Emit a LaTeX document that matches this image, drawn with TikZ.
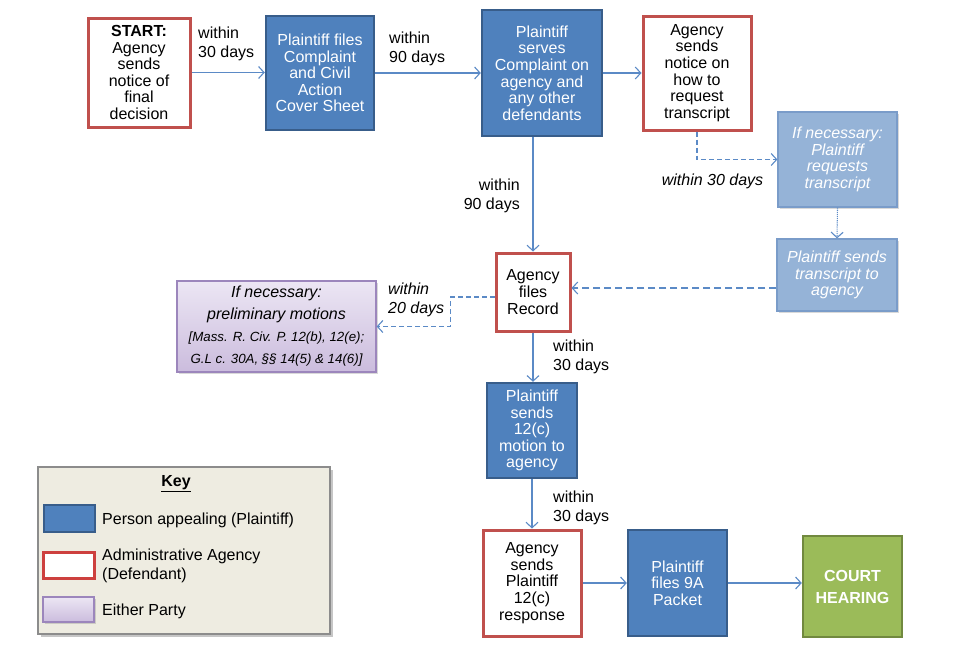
\documentclass[tikz,border=0pt]{standalone}
\usepackage{fontspec}
\setmainfont{Liberation Sans}
\usetikzlibrary{arrows.meta,calc,shadows}
\definecolor{plblue}{HTML}{4F81BD}
\definecolor{pledge}{HTML}{385D8A}
\definecolor{agred}{HTML}{C0504D}
\definecolor{optblue}{HTML}{95B3D7}
\definecolor{optedge}{HTML}{7A9CC9}
\definecolor{purtop}{HTML}{ECE6F4}
\definecolor{purbot}{HTML}{CBBCDD}
\definecolor{puredge}{HTML}{9C86BC}
\definecolor{courtgreen}{HTML}{9BBB59}
\definecolor{courtedge}{HTML}{71893F}
\definecolor{keywash}{HTML}{EEECE1}
\definecolor{keyedge}{HTML}{8C8C8C}
\definecolor{flowblue}{HTML}{5B8AC6}
\tikzset{
  box/.style={align=center,inner sep=0pt,font=\fontsize{16}{16.6}\selectfont},
  plaintiff/.style={box,fill=plblue,draw=pledge,line width=2.4pt,text=white},
  agency/.style={box,fill=white,draw=agred,line width=3pt,text=black},
  optional/.style={box,fill=optblue,draw=optedge,line width=1.2pt,text=white,
    font=\itshape\fontsize{16}{16.6}\selectfont,
    drop shadow={shadow xshift=1.5pt,shadow yshift=-1.5pt,opacity=0.3}},
  either/.style={box,top color=purtop,bottom color=purbot,draw=puredge,line width=1.3pt,
    drop shadow={shadow xshift=1.5pt,shadow yshift=-1.5pt,opacity=0.3}},
  court/.style={box,fill=courtgreen,draw=courtedge,line width=2.4pt,text=white,
    font=\bfseries\fontsize{16}{22}\selectfont},
  note/.style={font=\fontsize{16}{19}\selectfont,inner sep=0pt,align=left},
  flow/.style={draw=flowblue,line width=1.1pt,-{Straight Barb[length=5.5pt,width=12pt]}}
}
\begin{document}
\begin{tikzpicture}[x=1pt,y=-1pt]
\useasboundingbox (0,0) rectangle (961,653);

% top row
\node[agency,minimum width=102,minimum height=109] (start) at (139,72.5)
  {\textbf{START:}\\Agency\\sends\\notice of\\final\\decision};
\node[plaintiff,minimum width=108,minimum height=114] (complaint) at (320,73)
  {Plaintiff files\\Complaint\\and Civil\\Action\\Cover Sheet};
\node[plaintiff,minimum width=120,minimum height=126] (serves) at (542,73)
  {Plaintiff\\serves\\Complaint on\\agency and\\any other\\defendants};
\node[agency,minimum width=108,minimum height=114] (notice) at (697,73)
  {Agency\\sends\\notice on\\how to\\request\\transcript};

% transcript branch
\node[optional,minimum width=119,minimum height=95] (requests) at (837.5,159.5)
  {If necessary:\\Plaintiff\\requests\\transcript};
\node[optional,minimum width=120,minimum height=72] (sendtx) at (837,275)
  {Plaintiff sends\\transcript to\\agency};

% middle column
\node[agency,minimum width=74,minimum height=78] (record) at (533,292)
  {Agency\\files\\Record};
\node[either,minimum width=199,minimum height=91,
      font=\itshape\fontsize{16}{22}\selectfont] (motions) at (276.5,326.5)
  {If necessary:\\preliminary motions\\
   \fontsize{13.3}{19}\selectfont[Mass. R. Civ. P. 12(b), 12(e);\\
   \fontsize{13.3}{19}\selectfont G.L c. 30A, §§ 14(5) \& 14(6)]};
\node[plaintiff,minimum width=90,minimum height=95] (motion12c) at (532,430.5)
  {Plaintiff\\sends\\12(c)\\motion to\\agency};

% bottom row
\node[agency,minimum width=98,minimum height=106] (response) at (532,583)
  {Agency\\sends\\Plaintiff\\12(c)\\response};
\node[plaintiff,minimum width=99,minimum height=106] (packet) at (677.5,583)
  {Plaintiff\\files 9A\\Packet};
\node[court,minimum width=99,minimum height=101] (hearing) at (852.5,586.5)
  {COURT\\HEARING};

% connectors
\coordinate (txout) at ($(sendtx.west)+(0,13)$);
\coordinate (recout) at ($(record.west)+(0,5)$);
\draw[flow] (start.east) -- (start.east -| complaint.west);
\draw[flow] (complaint.east) -- (complaint.east -| serves.west);
\draw[flow] (serves.east) -- (serves.east -| notice.west);
\draw[flow] (serves.south -| record.north) -- (record.north);
\draw[flow,dash pattern=on 5pt off 3pt] (notice.south) |- (requests.west);
\draw[flow,densely dotted] (requests.south) -- (sendtx.north);
\draw[flow,dash pattern=on 7pt off 4pt] (txout) -- (txout -| record.east);
\draw[flow,dash pattern=on 5pt off 3pt] (recout) -- ++(-44,0) |- (motions.east);
\draw[flow] (record.south) -- (record.south |- motion12c.north);
\draw[flow] (motion12c.south) -- (motion12c.south |- response.north);
\draw[flow] (response.east) -- (packet.west);
\draw[flow] (packet.east) -- (packet.east -| hearing.west);

% time limits
\node[note,anchor=west] (d30a) at (198,44) {within\\30 days};
\node[note,anchor=west] (d90a) at (389,49) {within\\90 days};
\node[note,anchor=east,align=right] (d90b) at (520,196) {within\\90 days};
\node[note,font=\itshape\fontsize{16}{19}\selectfont] (d30b) at (712.5,181) {within 30 days};
\node[note,anchor=west,font=\itshape\fontsize{16}{19}\selectfont] (d20) at (388,300) {within\\20 days};
\node[note,anchor=west] (d30c) at (553,357) {within\\30 days};
\node[note,anchor=west] (d30d) at (553,508) {within\\30 days};

% key
\node[fill=keywash,draw=keyedge,line width=1.8pt,minimum width=292,minimum height=167,
      inner sep=0pt,drop shadow={shadow xshift=3pt,shadow yshift=-3pt,opacity=0.45}]
  (key) at (184,550.5) {};
\node[note] (keytitle) at (176,484) {\underline{\textbf{Key}}};
\node[plaintiff,minimum width=51,minimum height=27] (keyblue) at (69.5,518.5) {};
\node[agency,draw=agred!80!red,minimum width=51,minimum height=26] (keyred) at (68.5,565) {};
\node[either,minimum width=51,minimum height=25] (keypurple) at (68.5,609.5) {};
\node[note,anchor=west] (keybluetxt) at (102,520) {Person appealing (Plaintiff)};
\node[note,anchor=west] (keyredtxt) at (102,566) {Administrative Agency\\(Defendant)};
\node[note,anchor=west] (keypurpletxt) at (102,611) {Either Party};

\end{tikzpicture}
\end{document}
